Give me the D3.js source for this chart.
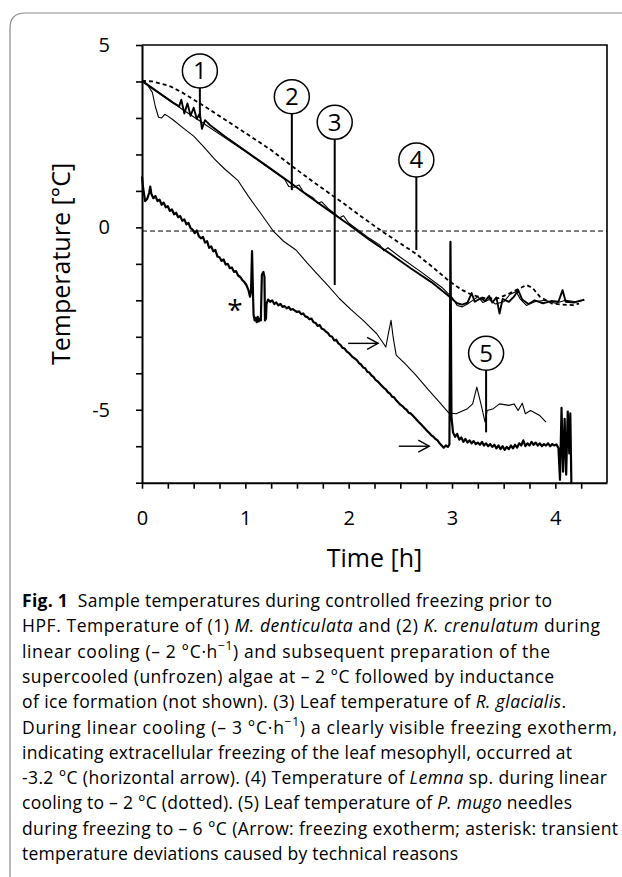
<!DOCTYPE html>
<html>
<head>
<meta charset="utf-8">
<script src="https://cdn.jsdelivr.net/npm/d3@7"></script>
<style>
  body { margin: 0; background: #fff; }
  svg { display: block; }
  text { font-family: "Open Sans", "Noto Sans", sans-serif; fill: #000; }
</style>
</head>
<body>
<svg id="chart" width="622" height="877"></svg>
<script>
// temperature traces, [time (h), temperature (°C)]

// (1) M. denticulata
const s1 = [[0,4.02],[0.1,3.82],[0.2,3.62],[0.3,3.42],[0.36,3.32],[0.38,3.5],[0.41,3.12],[0.44,3.4],[0.47,3.06],
  [0.5,3.28],[0.53,2.98],[0.56,3.12],[0.58,2.7],[0.61,2.94],[0.66,2.8],[0.8,2.5],[1.0,2.1],[1.2,1.7],[1.4,1.3],
  [1.6,0.88],[1.8,0.48],[2.0,0.08],[2.2,-0.34],[2.4,-0.72],[2.6,-1.12],[2.8,-1.5],[2.95,-1.84],[3.0,-1.96],
  [3.05,-2.08],[3.1,-2.12],[3.15,-2.06],[3.19,-1.8],[3.22,-2.04],[3.28,-1.94],[3.32,-2.02],[3.36,-1.88],
  [3.39,-2.06],[3.43,-1.92],[3.46,-2.36],[3.49,-1.96],[3.55,-2.04],[3.6,-1.9],[3.64,-1.72],[3.68,-1.98],
  [3.74,-2.1],[3.8,-2.0],[3.88,-2.08],[3.96,-2.02],[4.03,-2.04],[4.07,-1.72],[4.1,-2.04],[4.18,-2.06],[4.28,-1.98]];

// (2) K. crenulatum
const s2 = [[0,4.0],[0.2,3.6],[0.4,3.22],[0.6,2.84],[0.8,2.46],[1.0,2.08],[1.2,1.68],[1.38,1.32],[1.42,1.12],
  [1.47,1.1],[1.52,1.16],[1.56,0.98],[1.66,0.8],[1.7,0.66],[1.74,0.7],[1.8,0.52],[1.87,0.36],[1.91,0.26],
  [1.95,0.32],[2.0,0.12],[2.2,-0.3],[2.3,-0.48],[2.34,-0.64],[2.38,-0.56],[2.5,-0.82],[2.7,-1.22],[2.9,-1.64],
  [3.0,-1.92],[3.05,-2.14],[3.1,-2.18],[3.15,-2.1],[3.2,-2.0],[3.25,-1.9],[3.3,-2.06],[3.36,-1.98],[3.42,-2.1],
  [3.5,-2.04],[3.56,-1.84],[3.62,-1.76],[3.66,-1.96],[3.72,-2.14],[3.8,-2.04],[3.9,-2.0],[4.0,-2.08],[4.1,-2.0],
  [4.2,-2.04],[4.28,-2.0]];

// (3) R. glacialis
const s3 = [[0,4.0],[0.05,3.92],[0.1,3.7],[0.13,3.3],[0.16,3.02],[0.19,3.0],[0.22,3.1],[0.25,3.05],[0.3,2.95],
  [0.4,2.72],[0.5,2.5],[0.6,2.2],[0.7,1.88],[0.8,1.6],[0.93,1.28],[1.03,0.85],[1.15,0.38],[1.27,-0.1],
  [1.37,-0.38],[1.49,-0.62],[1.6,-0.98],[1.69,-1.26],[1.8,-1.6],[1.91,-1.95],[2.02,-2.25],[2.14,-2.55],
  [2.27,-2.91],[2.36,-3.28],[2.385,-2.9],[2.41,-2.55],[2.43,-3.0],[2.46,-3.5],[2.55,-3.75],[2.65,-4.05],
  [2.77,-4.45],[2.88,-4.8],[2.97,-5.09],[3.04,-5.11],[3.15,-4.97],[3.2,-4.84],[3.24,-4.38],[3.28,-4.84],
  [3.32,-5.34],[3.34,-5.02],[3.4,-4.97],[3.46,-4.84],[3.55,-4.88],[3.6,-4.84],[3.64,-5.02],[3.68,-4.82],
  [3.71,-5.11],[3.76,-5.02],[3.85,-5.16],[3.91,-5.34]];

// (4) Lemna sp. (dotted)
const s4 = [[0,4.02],[0.1,4.0],[0.2,3.93],[0.28,3.86],[0.4,3.68],[0.61,3.31],[0.93,2.72],[1.25,2.12],[1.46,1.66],
  [1.7,1.16],[1.95,0.66],[2.11,0.32],[2.33,-0.12],[2.5,-0.44],[2.65,-0.72],[2.8,-1.06],[2.98,-1.49],[3.1,-1.72],
  [3.2,-1.86],[3.33,-1.95],[3.45,-1.94],[3.55,-1.82],[3.62,-1.72],[3.72,-1.58],[3.78,-1.66],[3.85,-1.9],
  [3.97,-2.09],[4.07,-2.12],[4.17,-2.13],[4.23,-2.09]];

// (5) P. mugo needles
const s5 = [[0,1.4],[0.01,1.1],[0.03,0.72],[0.05,0.78],[0.07,0.95],[0.08,1.12],[0.09,0.92],[0.11,0.8],[0.13,0.86],
  [0.15,0.72],[0.17,0.76],[0.19,0.62],[0.21,0.68],[0.23,0.55],[0.25,0.58],[0.27,0.45],[0.29,0.49],[0.31,0.36],
  [0.33,0.4],[0.35,0.28],[0.37,0.31],[0.39,0.18],[0.41,0.22],[0.43,0.08],[0.45,0.12],[0.47,-0.02],[0.49,-0.06],
  [0.51,-0.16],[0.53,-0.08],[0.55,-0.24],[0.57,-0.3],[0.59,-0.26],[0.61,-0.42],[0.63,-0.38],[0.65,-0.56],
  [0.67,-0.52],[0.69,-0.66],[0.71,-0.62],[0.73,-0.8],[0.75,-0.82],[0.77,-0.92],[0.79,-0.88],[0.81,-1.02],
  [0.83,-1.0],[0.85,-1.12],[0.87,-1.1],[0.89,-1.22],[0.91,-1.2],[0.93,-1.32],[0.95,-1.36],[0.97,-1.44],
  [0.99,-1.5],[1.01,-1.58],[1.03,-1.72],[1.045,-1.9],[1.055,-1.75],[1.065,-0.65],[1.075,-1.9],[1.08,-2.4],
  [1.09,-2.55],[1.1,-2.48],[1.11,-2.6],[1.12,-2.45],[1.13,-2.58],[1.14,-2.5],[1.15,-2.55],[1.16,-1.3],
  [1.175,-1.22],[1.185,-1.35],[1.19,-2.55],[1.2,-2.5],[1.205,-2.1],[1.22,-1.98],[1.24,-2.04],[1.26,-2.0],
  [1.28,-2.1],[1.3,-2.06],[1.32,-2.14],[1.34,-2.1],[1.36,-2.18],[1.38,-2.16],[1.4,-2.22],[1.42,-2.18],
  [1.44,-2.26],[1.46,-2.24],[1.48,-2.28],[1.5,-2.32],[1.52,-2.3],[1.54,-2.38],[1.56,-2.36],[1.58,-2.44],
  [1.6,-2.46],[1.62,-2.52],[1.64,-2.5],[1.66,-2.6],[1.68,-2.62],[1.7,-2.7],[1.72,-2.68],[1.74,-2.78],
  [1.76,-2.8],[1.78,-2.86],[1.8,-2.9],[1.82,-2.98],[1.84,-3.0],[1.86,-3.1],[1.88,-3.08],[1.9,-3.18],
  [1.92,-3.22],[1.94,-3.3],[1.96,-3.32],[1.98,-3.4],[2.0,-3.44],[2.02,-3.5],[2.04,-3.56],[2.06,-3.6],
  [2.08,-3.64],[2.1,-3.72],[2.12,-3.76],[2.14,-3.84],[2.16,-3.86],[2.18,-3.96],[2.2,-3.98],[2.22,-4.06],
  [2.24,-4.1],[2.26,-4.18],[2.28,-4.22],[2.3,-4.28],[2.32,-4.34],[2.34,-4.4],[2.36,-4.44],[2.38,-4.52],
  [2.4,-4.56],[2.42,-4.64],[2.44,-4.66],[2.46,-4.74],[2.48,-4.8],[2.5,-4.86],[2.52,-4.9],[2.54,-4.96],
  [2.56,-5.0],[2.58,-5.08],[2.6,-5.1],[2.62,-5.16],[2.64,-5.22],[2.66,-5.28],[2.68,-5.34],[2.7,-5.4],
  [2.72,-5.46],[2.74,-5.52],[2.76,-5.58],[2.78,-5.64],[2.8,-5.7],[2.82,-5.74],[2.84,-5.8],[2.86,-5.84],
  [2.88,-5.92],[2.9,-5.98],[2.92,-6.04],[2.94,-5.98],[2.96,-6.02],[2.975,-5.95],[2.985,-0.4],[2.995,-5.2],
  [3.01,-5.62],[3.03,-5.74],[3.05,-5.66],[3.07,-5.82],[3.09,-5.76],[3.11,-5.88],[3.13,-5.8],[3.15,-5.9],
  [3.17,-5.84],[3.19,-5.92],[3.21,-5.86],[3.23,-5.94],[3.25,-5.9],[3.27,-5.96],[3.29,-5.88],[3.31,-5.98],
  [3.33,-5.92],[3.35,-6.0],[3.37,-5.94],[3.39,-6.02],[3.41,-5.96],[3.43,-6.06],[3.45,-5.98],[3.47,-6.08],
  [3.49,-6.0],[3.51,-6.1],[3.53,-6.02],[3.55,-6.08],[3.57,-5.98],[3.59,-6.06],[3.61,-5.96],[3.63,-6.04],
  [3.65,-5.92],[3.67,-5.98],[3.69,-5.84],[3.71,-6.0],[3.73,-5.92],[3.75,-5.98],[3.77,-5.88],[3.79,-5.96],
  [3.81,-5.9],[3.83,-5.98],[3.85,-5.92],[3.87,-6.0],[3.89,-5.94],[3.91,-5.98],[3.93,-5.92],[3.95,-6.0],
  [3.97,-5.94],[3.99,-5.98],[4.01,-5.95],[4.03,-6.05],[4.045,-6.92],[4.06,-4.95],[4.075,-6.7],[4.09,-5.25],
  [4.105,-6.78],[4.12,-5.05],[4.135,-6.2],[4.145,-5.1],[4.155,-6.99],[4.16,-7.0]];

const zeroLine = -0.1;

// ticks
const xTicks = d3.range(0, 4.5, 0.25);
const xLabels = [0, 1, 2, 3, 4];
const yTicks = d3.range(-7, 6, 1);
const yLabels = [5, 0, -5];

// numbered markers: circle position and where the leader line ends
const markers = [
  { n: "1", t: 0.56, T: 4.29, end: 3.0 },
  { n: "2", t: 1.45, T: 3.58, end: 1.02 },
  { n: "3", t: 1.865, T: 2.88, end: -1.58 },
  { n: "4", t: 2.655, T: 1.85, end: -0.62 },
  { n: "5", t: 3.33, T: -3.45, end: -5.62 }
];

// exotherm arrows [t start, t end, T]
const arrows = [[1.995, 2.285, -3.18], [2.485, 2.78, -6.0]];
const asterisk = [0.9, -2.2];

// caption lines: [text, style] segments + target width
const caption = [
  { w: 530, seg: [["Fig. 1", "b"], ["  Sample temperatures during controlled freezing prior to", ""]] },
  { w: 578, seg: [["HPF. Temperature of (1) ", ""], ["M. denticulata", "i"], [" and (2) ", ""], ["K. crenulatum", "i"], [" during", ""]] },
  { w: 528, seg: [["linear cooling (– 2 °C·h", ""], ["−1", "sup"], [") and subsequent preparation of the", ""]] },
  { w: 532, seg: [["supercooled (unfrozen) algae at – 2 °C followed by inductance", ""]] },
  { w: 544, seg: [["of ice formation (not shown). (3) Leaf temperature of ", ""], ["R. glacialis", "i"], [".", ""]] },
  { w: 595, seg: [["During linear cooling (– 3 °C·h", ""], ["−1", "sup"], [") a clearly visible freezing exotherm,", ""]] },
  { w: 550, seg: [["indicating extracellular freezing of the leaf mesophyll, occurred at", ""]] },
  { w: 585, seg: [["-3.2 °C (horizontal arrow). (4) Temperature of ", ""], ["Lemna", "i"], [" sp. during linear", ""]] },
  { w: 550, seg: [["cooling to – 2 °C (dotted). (5) Leaf temperature of ", ""], ["P. mugo", "i"], [" needles", ""]] },
  { w: 596, seg: [["during freezing to – 6 °C (Arrow: freezing exotherm; asterisk: transient", ""]] },
  { w: 436, seg: [["temperature deviations caused by technical reasons", ""]] }
];

const svg = d3.select("#chart");

// outer card border (rounded top-left corner)
svg.append("path")
  .attr("d", "M10,877 L10,28 Q10,13 25,13 L622,13")
  .attr("fill", "none")
  .attr("stroke", "#8a8a8a")
  .attr("stroke-width", 1.2);

const x = d3.scaleLinear().domain([0, 4.5]).range([142, 607]);
const y = d3.scaleLinear().domain([-7, 5]).range([482.7, 45]);

// frame top + right
svg.append("path")
  .attr("d", `M${x(0)},${y(5)} H${x(4.5)} V${y(-7)}`)
  .attr("fill", "none")
  .attr("stroke", "#000")
  .attr("stroke-width", 1.6);

// axes
const xAxis = svg.append("g")
  .attr("transform", `translate(0,${y(-7)})`)
  .call(d3.axisBottom(x).tickValues(xTicks).tickSize(6).tickSizeOuter(0).tickPadding(22)
    .tickFormat(d => xLabels.includes(d) ? String(d) : ""));

const yAxis = svg.append("g")
  .attr("transform", `translate(${x(0)},0)`)
  .call(d3.axisLeft(y).tickValues(yTicks).tickSize(6).tickSizeOuter(0).tickPadding(26)
    .tickFormat(d => yLabels.includes(d) ? String(d) : ""));

[xAxis, yAxis].forEach(a => {
  a.select(".domain").attr("stroke", "#000").attr("stroke-width", 2);
  a.selectAll(".tick line").attr("stroke", "#000").attr("stroke-width", 1.6);
  a.selectAll(".tick text")
    .style("font-family", '"Open Sans", sans-serif')
    .style("font-size", "20px")
    .attr("fill", "#000");
});

// axis titles
svg.append("text")
  .attr("x", x(2.25))
  .attr("y", 567)
  .attr("text-anchor", "middle")
  .style("font-size", "25px")
  .text("Time [h]");

svg.append("text")
  .attr("transform", `translate(70,${(y(5) + y(-7)) / 2}) rotate(-90)`)
  .attr("text-anchor", "middle")
  .style("font-size", "25px")
  .text("Temperature [°C]");

// zero reference line
svg.append("line")
  .attr("x1", x(0)).attr("x2", x(4.5))
  .attr("y1", y(zeroLine)).attr("y2", y(zeroLine))
  .attr("stroke", "#000")
  .attr("stroke-width", 1)
  .attr("stroke-dasharray", "5,3");

const line = d3.line().x(d => x(d[0])).y(d => y(d[1]));

// traces
const traces = [
  { data: s4, w: 1.8, dash: "4,3" },
  { data: s3, w: 1.1, dash: null },
  { data: s2, w: 1.1, dash: null },
  { data: s1, w: 1.9, dash: null },
  { data: s5, w: 2.2, dash: null }
];

svg.append("g")
  .selectAll("path")
  .data(traces)
  .join("path")
  .attr("d", d => line(d.data))
  .attr("fill", "none")
  .attr("stroke", "#000")
  .attr("stroke-width", d => d.w)
  .attr("stroke-linejoin", "round")
  .attr("stroke-dasharray", d => d.dash);

// numbered markers
const mk = svg.append("g")
  .selectAll("g")
  .data(markers)
  .join("g");

mk.append("line")
  .attr("x1", d => x(d.t)).attr("x2", d => x(d.t))
  .attr("y1", d => y(d.T) + 17)
  .attr("y2", d => y(d.end))
  .attr("stroke", "#000")
  .attr("stroke-width", 2);

mk.append("ellipse")
  .attr("cx", d => x(d.t))
  .attr("cy", d => y(d.T))
  .attr("rx", 17.5)
  .attr("ry", 17)
  .attr("fill", "#fff")
  .attr("stroke", "#000")
  .attr("stroke-width", 1.5);

mk.append("text")
  .attr("x", d => x(d.t))
  .attr("y", d => y(d.T) + 8.5)
  .attr("text-anchor", "middle")
  .style("font-size", "24px")
  .text(d => d.n);

// arrows
const ar = svg.append("g")
  .selectAll("g")
  .data(arrows)
  .join("g")
  .attr("fill", "none")
  .attr("stroke", "#000")
  .attr("stroke-width", 1.4);

ar.append("line")
  .attr("x1", d => x(d[0])).attr("x2", d => x(d[1]))
  .attr("y1", d => y(d[2])).attr("y2", d => y(d[2]));

ar.append("path")
  .attr("d", d => `M${x(d[1]) - 11},${y(d[2]) - 6} L${x(d[1])},${y(d[2])} L${x(d[1]) - 11},${y(d[2]) + 6}`);

svg.append("text")
  .attr("x", x(asterisk[0]))
  .attr("y", y(asterisk[1]) + 12)
  .attr("text-anchor", "middle")
  .style("font-size", "28px")
  .text("*");

// caption
const cap = svg.append("g").attr("transform", "translate(22,0)");
caption.forEach((ln, i) => {
  const t = cap.append("text")
    .attr("x", 0)
    .attr("y", 607 + i * 25.3)
    .attr("textLength", ln.w)
    .attr("lengthAdjust", "spacing")
    .attr("xml:space", "preserve")
    .style("white-space", "pre")
    .style("font-size", "17.5px")
    .attr("fill", "#222");
  ln.seg.forEach(([txt, st]) => {
    const s = t.append("tspan").text(txt);
    if (st === "b") s.style("font-weight", "bold");
    if (st === "i") s.style("font-style", "italic");
    if (st === "sup") s.attr("baseline-shift", "super").style("font-size", "12px");
  });
});
</script>
</body>
</html>
